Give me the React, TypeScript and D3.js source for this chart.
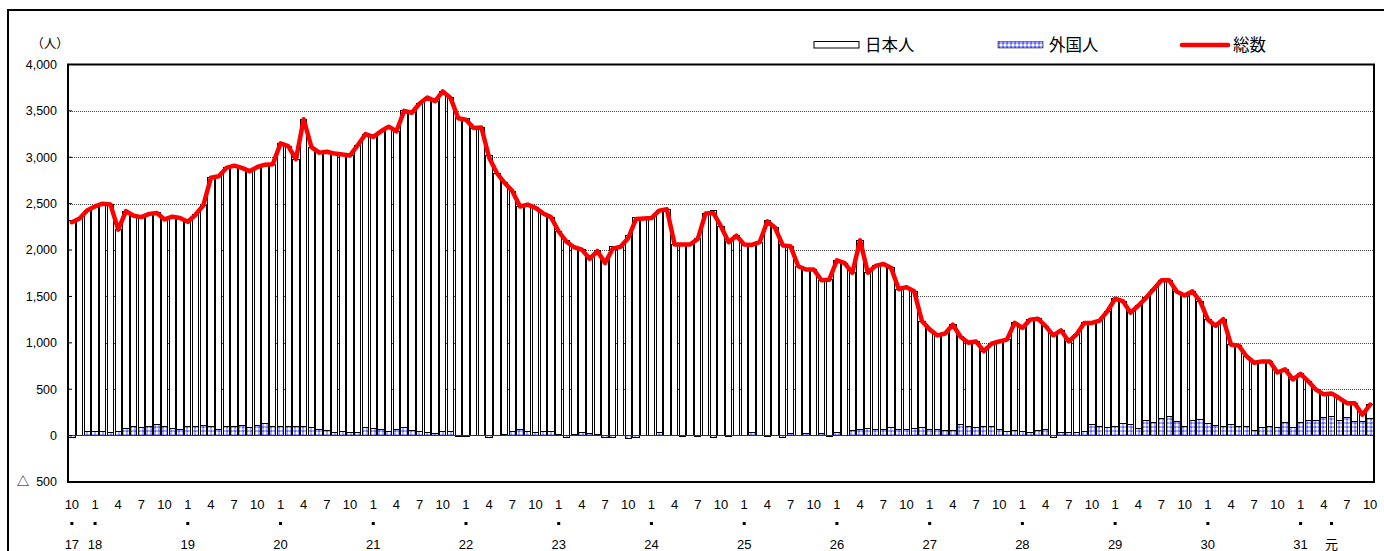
import * as d3 from 'd3';
import { useEffect, useRef } from 'react';

const W = 1384;
const H = 551;

// 総数 (monthly, H17.10 - R1.10)
const total = [
    2300, 2340, 2430, 2470, 2500, 2490, 2220, 2420, 2370, 2355, 2390, 2400,
    2330, 2360, 2345, 2305, 2380, 2480, 2780, 2795, 2885, 2910, 2885, 2850,
    2895, 2920, 2925, 3150, 3120, 2980, 3410, 3110, 3050, 3060, 3040, 3030,
    3020, 3130, 3250, 3220, 3280, 3330, 3280, 3500, 3480, 3580, 3645, 3605,
    3710, 3640, 3420, 3405, 3315, 3320, 2995, 2830, 2725, 2635, 2470, 2490,
    2455, 2395, 2355, 2200, 2090, 2030, 2005, 1905, 1990, 1860, 2015, 2035,
    2130, 2335, 2340, 2345, 2425, 2440, 2060, 2060, 2060, 2120, 2395, 2400,
    2255, 2085, 2155, 2060, 2055, 2085, 2310, 2240, 2050, 2040, 1825, 1790,
    1790, 1675, 1680, 1890, 1860, 1755, 2105, 1755, 1830, 1850, 1810, 1580,
    1600, 1555, 1235, 1145, 1080, 1100, 1195, 1065, 1000, 1015, 910, 990,
    1015, 1035, 1215, 1160, 1250, 1260, 1180, 1080, 1135, 1015, 1090, 1215,
    1215, 1240, 1340, 1475, 1450, 1325, 1400, 1485, 1580, 1675, 1675, 1550,
    1510, 1555, 1450, 1250, 1185, 1255, 980, 970, 855, 785, 800, 800,
    680, 715, 605, 665, 585, 495, 445, 455, 405, 350, 350, 225, 335
];

// 外国人
const foreign = [
    -15, 5, 45, 45, 45, 35, 45, 75, 100, 85, 100, 120,
    100, 75, 70, 95, 95, 110, 95, 70, 100, 100, 110, 85,
    110, 130, 95, 95, 100, 95, 95, 90, 65, 55, 35, 45,
    30, 35, 85, 80, 70, 45, 65, 85, 55, 45, 30, 20,
    45, 40, -5, -10, 5, 0, -20, 0, 10, 45, 65, 45,
    35, 40, 40, 10, -15, 10, 35, 20, 10, -15, -20, 0,
    -30, -15, 0, 0, 30, 5, 5, -5, 5, -5, 0, -25,
    5, -5, 0, 0, 35, 5, -5, 0, -15, 20, 5, 20,
    5, 20, -5, 35, 5, 55, 65, 75, 70, 65, 90, 70,
    70, 80, 90, 70, 70, 55, 55, 115, 100, 90, 100, 100,
    70, 40, 55, 40, 35, 55, 70, -15, 30, 30, 35, 45,
    120, 100, 85, 100, 130, 120, 75, 165, 145, 180, 210, 150,
    100, 160, 170, 135, 110, 95, 115, 95, 95, 55, 85, 100,
    85, 145, 85, 145, 165, 165, 190, 210, 165, 190, 155, 155, 180
];

const yTicks = [4000, 3500, 3000, 2500, 2000, 1500, 1000, 500, 0, -500];
const shownMonths = [1, 4, 7, 10];
const yearTicks = ['17', '18', '19', '20', '21', '22', '23', '24', '25', '26', '27', '28', '29', '30', '31', '元'];
const yearTickCats = ['H17.10', 'H18.1', 'H19.1', 'H20.1', 'H21.1', 'H22.1', 'H23.1', 'H24.1', 'H25.1', 'H26.1', 'H27.1', 'H28.1', 'H29.1', 'H30.1', 'H31.1', 'R1.5'];
const legendNames = ['日本人', '外国人', '総数'];

// month categories starting at 平成17年10月
const categories: string[] = [];
const monthOf: number[] = [];
for (let i = 0; i < total.length; i++) {
    const yr = 17 + Math.floor((i + 9) / 12);
    const m = (i + 9) % 12 + 1;
    categories.push(yr === 31 && m >= 5 ? `R1.${m}` : `H${yr}.${m}`);
    monthOf.push(m);
}

const FONT = '"Liberation Sans", "Noto Sans CJK JP", sans-serif';

const App = () => {
    const svgRef = useRef<SVGSVGElement>(null);

    useEffect(() => {
        const svg = d3.select(svgRef.current);
        svg.selectAll('*').remove();

        const left = 68, right = 1374, top = 64.5, bottom = 482;
        const x = d3.scaleBand().domain(categories).range([left, right]).paddingInner(0.18).paddingOuter(0.09);
        const y = d3.scaleLinear().domain([-500, 4000]).range([bottom, top]);
        const bw = x.bandwidth();

        const defs = svg.append('defs');
        const pat = defs.append('pattern').attr('id', 'dots').attr('patternUnits', 'userSpaceOnUse')
            .attr('width', 4).attr('height', 4);
        pat.append('rect').attr('width', 4).attr('height', 4).attr('fill', '#a9aeff');
        pat.append('rect').attr('x', 0).attr('y', 0).attr('width', 2).attr('height', 2).attr('fill', '#ffffff');
        pat.append('rect').attr('x', 2.5).attr('y', 2.5).attr('width', 1.2).attr('height', 1.2).attr('fill', '#0000ee');

        // outer frame
        svg.append('rect').attr('x', 8).attr('y', 10).attr('width', 1400).attr('height', 600)
            .attr('fill', 'none').attr('stroke', '#000').attr('stroke-width', 2);

        // grid
        svg.append('g').selectAll('line')
            .data(yTicks.filter(t => t > 0 && t < 4000))
            .enter().append('line')
            .attr('x1', left).attr('x2', right)
            .attr('y1', d => Math.round(y(d)) + 0.5).attr('y2', d => Math.round(y(d)) + 0.5)
            .attr('stroke', '#444').attr('stroke-width', 1).attr('stroke-dasharray', '1,1');

        const rows = categories.map((c, i) => ({ cat: c, foreign: foreign[i], japanese: total[i] - foreign[i], total: total[i] }));
        const stack = d3.stack<any>().keys(['foreign', 'japanese']).offset(d3.stackOffsetDiverging);
        const series = stack(rows);

        const fills: Record<string, string> = { japanese: '#fff', foreign: 'url(#dots)' };
        series.slice().reverse().forEach(s => {
            svg.append('g').selectAll('rect')
                .data(s)
                .enter().append('rect')
                .attr('x', d => x(d.data.cat)!)
                .attr('width', bw)
                .attr('y', d => y(Math.max(d[0], d[1])))
                .attr('height', d => Math.abs(y(d[0]) - y(d[1])))
                .attr('fill', fills[s.key])
                .attr('stroke', '#000')
                .attr('stroke-width', 1)
                .attr('shape-rendering', 'crispEdges');
        });

        // zero line
        svg.append('line').attr('x1', left).attr('x2', right).attr('y1', y(0)).attr('y2', y(0))
            .attr('stroke', '#333').attr('stroke-width', 1).attr('shape-rendering', 'crispEdges');

        // total line
        const line = d3.line<any>()
            .x(d => x(d.cat)! + bw / 2)
            .y(d => y(d.total))
            .curve(d3.curveLinear);
        svg.append('path').datum(rows).attr('d', line)
            .attr('fill', 'none').attr('stroke', '#ff0000').attr('stroke-width', 4.5)
            .attr('stroke-linejoin', 'round').attr('stroke-linecap', 'round');

        // plot frame
        svg.append('rect').attr('x', left).attr('y', top).attr('width', right - left).attr('height', bottom - top)
            .attr('fill', 'none').attr('stroke', '#000').attr('stroke-width', 2);

        // y ticks
        const yg = svg.append('g').attr('font-family', FONT).attr('font-size', 12.5).attr('fill', '#000');
        yTicks.forEach(t => {
            yg.append('line').attr('x1', left).attr('x2', left + 4).attr('y1', y(t)).attr('y2', y(t))
                .attr('stroke', '#000');
            yg.append('text').attr('x', 57).attr('y', y(t)).attr('dy', '0.35em').attr('text-anchor', 'end')
                .text(t < 0 ? `△\u00a0\u00a0${d3.format(',')(-t)}` : d3.format(',')(t));
        });
        yg.append('text').attr('x', 50).attr('y', 44).attr('dy', '0.35em').attr('text-anchor', 'middle')
            .text('（人）');

        // x labels
        const xg = svg.append('g').attr('font-family', FONT).attr('font-size', 13).attr('fill', '#000')
            .attr('text-anchor', 'middle');
        categories.forEach((c, i) => {
            if (shownMonths.includes(monthOf[i])) {
                xg.append('text').attr('x', x(c)! + bw / 2).attr('y', 504).attr('dy', '0.35em').text(String(monthOf[i]));
            }
        });
        yearTickCats.forEach((c, i) => {
            const cx = x(c)! + bw / 2;
            xg.append('rect').attr('x', cx - 1.5).attr('y', 522).attr('width', 3).attr('height', 3).attr('fill', '#000');
            xg.append('text').attr('x', cx).attr('y', 544).attr('dy', '0.35em').text(yearTicks[i]);
        });

        // legend
        const lg = svg.append('g').attr('font-family', FONT).attr('font-size', 16.5).attr('fill', '#000');
        const lx = [814, 998, 1182];
        lg.append('rect').attr('x', lx[0]).attr('y', 41.5).attr('width', 45).attr('height', 6.5)
            .attr('fill', '#fff').attr('stroke', '#000').attr('stroke-width', 1);
        lg.append('rect').attr('x', lx[1]).attr('y', 41.5).attr('width', 45).attr('height', 6.5)
            .attr('fill', 'url(#dots)').attr('stroke', '#000').attr('stroke-width', 0.5);
        lg.append('line').attr('x1', lx[2]).attr('x2', lx[2] + 46).attr('y1', 45).attr('y2', 45)
            .attr('stroke', '#ff0000').attr('stroke-width', 4.5).attr('stroke-linecap', 'round');
        legendNames.forEach((n, i) => {
            lg.append('text').attr('x', lx[i] + 51).attr('y', 45).attr('dy', '0.35em').text(n);
        });

        return () => {
            svg.selectAll('*').remove();
        };
    }, []);

    return (
        <svg ref={svgRef} width={W} height={H}
            style={{ position: 'absolute', left: 0, top: 0, background: '#fff', display: 'block' }}></svg>
    );
};

export default App;
